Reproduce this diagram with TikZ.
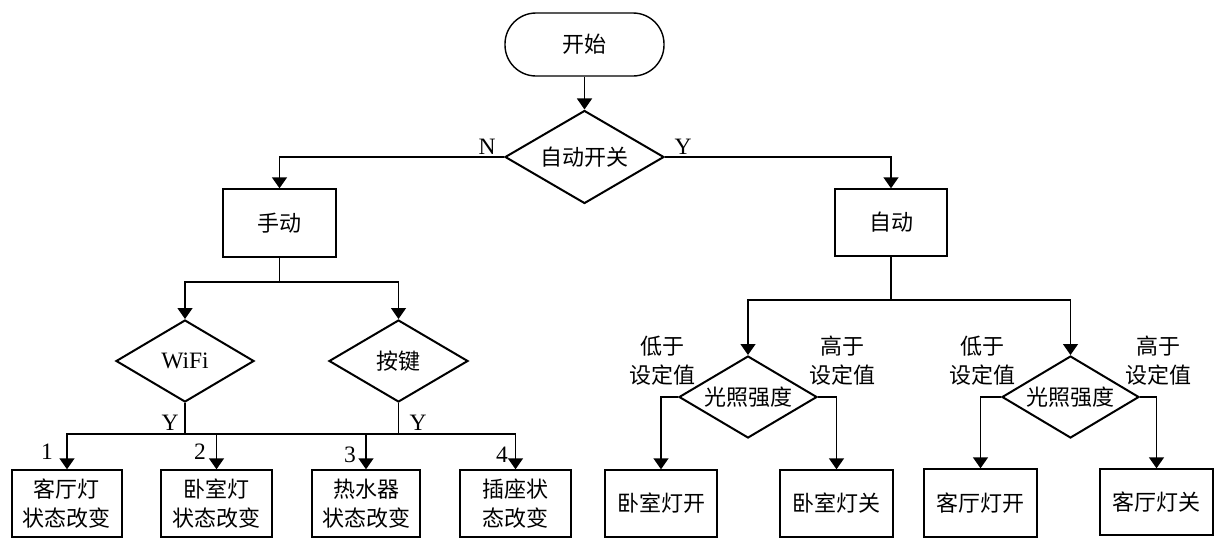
\documentclass[tikz,border=0pt]{standalone}
\usepackage{fontspec}
\setmainfont{Liberation Serif}
\newfontfamily\cjk{Noto Sans CJK SC}
\usetikzlibrary{shapes.geometric, arrows.meta, calc}

\begin{document}
\begin{tikzpicture}[x=1pt, y=-1pt]
    \tikzset{
        cn text/.style={font=\cjk\fontsize{22}{29}\selectfont, align=center},
        yn label/.style={font=\fontsize{23.5}{25}\selectfont, inner sep=0pt},
        terminal/.style={rectangle, draw, line width=1.4pt, rounded corners=31pt, minimum width=159pt, minimum height=63pt, cn text},
        flow box/.style={rectangle, draw, line width=1.4pt, inner sep=0pt, minimum height=67pt, cn text},
        decision/.style={diamond, draw, line width=2pt, inner sep=0pt, aspect=1.7, cn text},
        flow line/.style={line width=1.4pt},
        flow arrow/.style={flow line, -{Triangle[width=15pt,length=11pt]}}
    }
    \useasboundingbox (0,0) rectangle (1216,544);

    % top part
    \node[terminal] (start) at (584.5,44.5) {开始};
    \node[decision, minimum width=159pt, minimum height=93pt] (switch) at (584.5,157) {自动开关};
    \node[flow box, minimum width=113pt, minimum height=68pt] (manual) at (279.5,223) {手动};
    \node[flow box, minimum width=112pt] (auto) at (891,222.5) {自动};

    % manual branch
    \node[decision, minimum width=138pt, minimum height=82pt, font=\fontsize{23.5}{25}\selectfont] (wifi) at (185,361) {WiFi};
    \node[decision, minimum width=139pt, minimum height=82pt] (key) at (398.5,361) {按键};
    \node[flow box, minimum width=110pt] (living) at (67,503.5) {客厅灯\\状态改变};
    \node[flow box, minimum width=111pt] (bedroom) at (216.5,503.5) {卧室灯\\状态改变};
    \node[flow box, minimum width=108pt] (heater) at (366,503.5) {热水器\\状态改变};
    \node[flow box, minimum width=111pt] (socket) at (515.5,503.5) {插座状\\态改变};

    % auto branch
    \node[decision, minimum width=138pt, minimum height=82pt] (light a) at (748,397) {光照强度};
    \node[decision, minimum width=137pt, minimum height=82pt] (light b) at (1070.5,397) {光照强度};
    \node[flow box, minimum width=112pt] (bed on) at (661,503.5) {卧室灯开};
    \node[flow box, minimum width=113pt] (bed off) at (836.5,503.5) {卧室灯关};
    \node[flow box, minimum width=113pt, minimum height=68pt] (liv on) at (980.5,503) {客厅灯开};
    \node[flow box, minimum width=113pt, minimum height=66pt] (liv off) at (1156.5,502) {客厅灯关};

    \coordinate (mjoin) at (279.5,282);
    \coordinate (wjoin) at (185,434);
    \coordinate (kjoin) at (398.5,434);
    \coordinate (ajoin) at (891,300);

    % connectors
    \draw[flow arrow] (start) -- (switch);
    \draw[flow arrow] (switch.west) -| (manual.north);
    \draw[flow arrow] (switch.east) -| (auto.north);
    \draw[flow line] (manual) -- (mjoin);
    \draw[flow arrow] (mjoin) -| (wifi.north);
    \draw[flow arrow] (mjoin) -| (key.north);
    \draw[flow line] (wifi.south) -- (wjoin);
    \draw[flow line] (key.south) -- (kjoin);
    \draw[flow line] (wjoin) -- (kjoin);
    \draw[flow arrow] (wjoin) -| (living.north);
    \draw[flow arrow] (wjoin) -| (bedroom.north);
    \draw[flow arrow] (kjoin) -| (heater.north);
    \draw[flow arrow] (kjoin) -| (socket.north);
    \draw[flow line] (auto) -- (ajoin);
    \draw[flow arrow] (ajoin) -| (light a.north);
    \draw[flow arrow] (ajoin) -| (light b.north);
    \draw[flow arrow] (light a.west) -| (bed on.north);
    \draw[flow arrow] (light a.east) -| (bed off.north);
    \draw[flow arrow] (light b.west) -| (liv on.north);
    \draw[flow arrow] (light b.east) -| (liv off.north);

    % labels
    \node[yn label] (lbl n) at (487,147) {N};
    \node[yn label] (lbl y) at (683,147) {Y};
    \node[yn label] (lbl wy) at (170,423) {Y};
    \node[yn label] (lbl ky) at (418,423) {Y};
    \node[yn label] (num1) at (47,452) {1};
    \node[yn label] (num2) at (200,452) {2};
    \node[yn label] (num3) at (350,455) {3};
    \node[yn label] (num4) at (502,455) {4};
    \node[cn text, inner sep=0pt] (low a) at (662,361) {低于\\设定值};
    \node[cn text, inner sep=0pt] (high a) at (842,361) {高于\\设定值};
    \node[cn text, inner sep=0pt] (low b) at (982,361) {低于\\设定值};
    \node[cn text, inner sep=0pt] (high b) at (1158,361) {高于\\设定值};
\end{tikzpicture}
\end{document}
